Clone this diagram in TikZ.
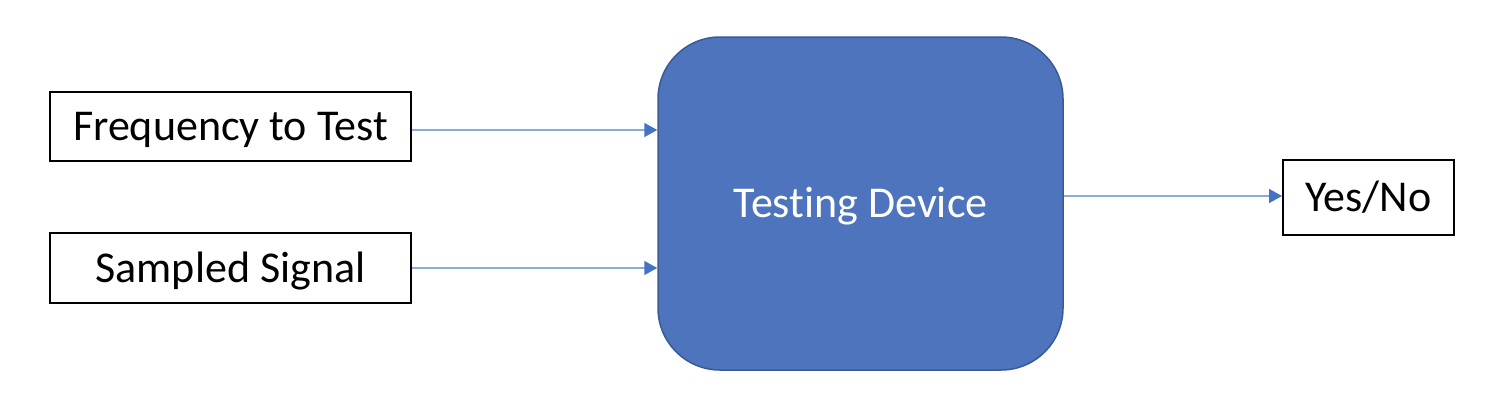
\documentclass[tikz,border=0pt]{standalone}
\usepackage{fontspec}
\setmainfont[Ligatures=NoCommon]{Carlito}
\usetikzlibrary{arrows.meta}
\definecolor{devfill}{HTML}{4E74BE}
\definecolor{devedge}{HTML}{3A5A96}
\definecolor{arrline}{HTML}{8EA9DB}
\definecolor{arrhead}{HTML}{4472C4}
\begin{document}
\begin{tikzpicture}[x=1pt,y=-1pt,
  lbl/.style={text height=28.5pt, text depth=0pt, font=\fontsize{44}{50}\selectfont},
  inbox/.style={lbl, draw=black, line width=2pt, fill=white, inner sep=0pt},
  devbox/.style={lbl, draw=devedge, line width=1.5pt, fill=devfill, rounded corners=62pt, inner sep=0pt, text=white},
  flow/.style={draw=arrline, line width=1.5pt, -{Triangle[length=13pt,width=14pt,color=arrhead]}}
]
\useasboundingbox (0,0) rectangle (1488,400);
\node[inbox, minimum width=361pt, minimum height=69pt] (freq) at (230.5,126.5) {Frequency to Test};
\node[inbox, minimum width=361pt, minimum height=70pt] (samp) at (230.5,268) {Sampled Signal};
\node[devbox, minimum width=405pt, minimum height=333pt] (dev) at (860.5,203.5) {Testing Device};
\node[inbox, minimum width=171pt, minimum height=75pt] (yn) at (1368.5,197.5) {Yes/No};
\draw[flow] (freq.east |- 0,130) -- (dev.west |- 0,130);
\draw[flow] (samp.east |- 0,268) -- (dev.west |- 0,268);
\draw[flow] (dev.east |- 0,196) -- (yn.west |- 0,196);
\end{tikzpicture}
\end{document}
